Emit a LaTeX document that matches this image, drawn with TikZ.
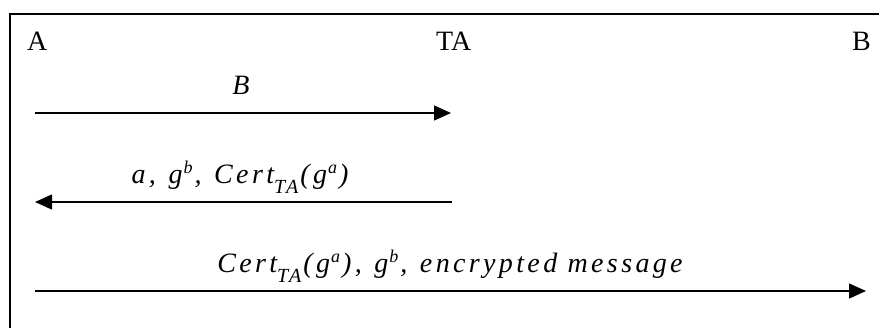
\documentclass[tikz,border=0pt]{standalone}
\usepackage{fontspec}
\setmainfont{Liberation Serif}
\newfontfamily\lblfont[LetterSpace=12]{Liberation Serif}
\usetikzlibrary{arrows.meta}
\newcommand\supx[1]{\kern1pt\raisebox{9.5pt}{\fontsize{18}{18}\selectfont #1}\kern2pt}
\newcommand\subx[1]{\raisebox{-10pt}{\fontsize{20}{20}\selectfont #1}\kern2pt}
\newcommand\gap{\hspace{0.45em}}
\tikzset{
  party/.style={inner sep=0pt, font=\fontsize{28}{32}\selectfont},
  msglabel/.style={inner sep=0pt, anchor=base, font=\lblfont\itshape\fontsize{28}{32}\selectfont},
  msg/.style={line width=1.3pt, -{Triangle[length=17pt,width=15pt]}},
  frame/.style={line width=1.8pt}
}
\begin{document}
\begin{tikzpicture}[x=1pt,y=-1pt]
\useasboundingbox (0,0) rectangle (879,327);
\draw[frame] (10,330) -- (10,14) -- (882,14);
\node[party, anchor=base west] (A) at (27,50) {A};
\node[party, anchor=base west] (TA) at (436,50) {TA};
\node[party, anchor=base east] (B) at (871,50) {B};
% message 1
\coordinate (a1) at (35,113);
\coordinate (t1) at (451,113);
\draw[msg] (a1) -- (t1);
\node[msglabel] (m1) at (241,94) {B};
% message 2
\coordinate (t2) at (452,202);
\coordinate (a2) at (35,202);
\draw[msg] (t2) -- (a2);
\node[msglabel] (m2) at (240,183) {a,\gap g\supx{b},\gap Cert\subx{TA}(g\supx{a})};
% message 3
\coordinate (a3) at (35,291);
\coordinate (b3) at (866,291);
\draw[msg] (a3) -- (b3);
\node[msglabel] (m3) at (450,272) {Cert\subx{TA}(g\supx{a}),\gap g\supx{b},\gap encrypted message};
\end{tikzpicture}
\end{document}
